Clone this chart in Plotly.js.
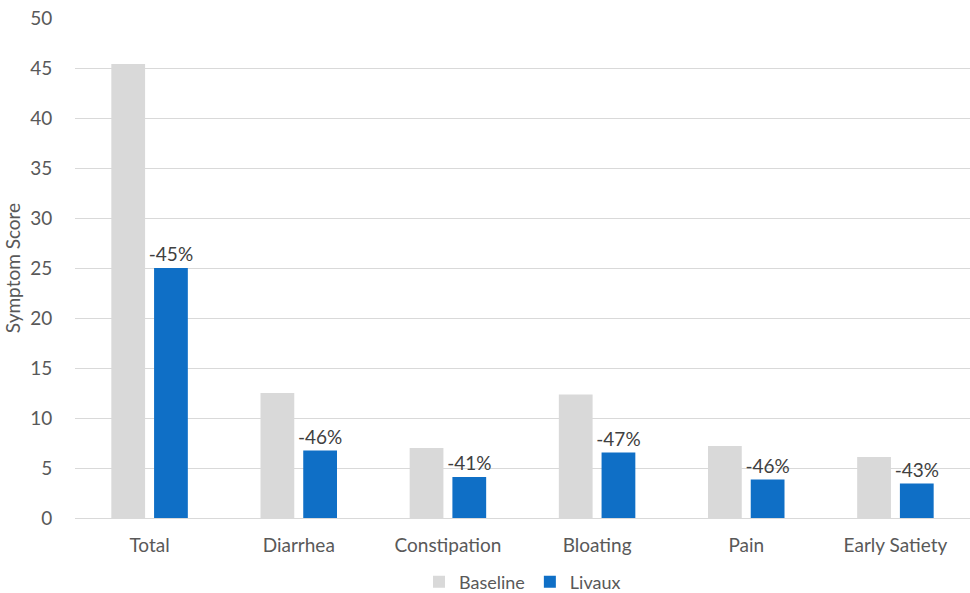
<!DOCTYPE html>
<html>
<head>
<meta charset="utf-8">
<script src="https://cdn.plot.ly/plotly-3.0.1.min.js"></script>
<style>html,body{margin:0;padding:0;background:#fff;}#chart{width:970px;height:593px;}</style>
</head>
<body>
<div id="chart"></div>
<script>
const categories = ["Total", "Diarrhea", "Constipation", "Bloating", "Pain", "Early Satiety"];
const baseline = [45.4, 12.5, 7.0, 12.35, 7.2, 6.1];
const livaux = [25.0, 6.75, 4.1, 6.55, 3.85, 3.45];
const changeLabels = ["-45%", "-46%", "-41%", "-47%", "-46%", "-43%"];
const yTicks = [0, 5, 10, 15, 20, 25, 30, 35, 40, 45, 50];

const fontFam = "Lato, 'Open Sans', sans-serif";
const textColor = "#595959";

const traces = [
  {
    type: "bar", name: "Baseline", x: categories, y: baseline,
    marker: {color: "#d9d9d9"}, hoverinfo: "skip"
  },
  {
    type: "bar", name: "Livaux", x: categories, y: livaux,
    marker: {color: "#0f6fc6"},
    text: changeLabels, textposition: "outside", cliponaxis: false, constraintext: "none",
    textfont: {family: fontFam, size: 19, color: "#404040"}, hoverinfo: "skip"
  }
];

const layout = {
  width: 970, height: 593,
  margin: {l: 75, r: 0, t: 18, b: 75, autoexpand: false},
  paper_bgcolor: "#fff", plot_bgcolor: "#fff",
  barmode: "group", bargap: 0.427, bargroupgap: 0.21,
  font: {family: fontFam, size: 19, color: textColor},
  xaxis: {
    showgrid: false, showline: true, linecolor: "#d9d9d9", linewidth: 1,
    ticks: "outside", ticklen: 10, tickcolor: "rgba(0,0,0,0)",
    tickfont: {family: fontFam, size: 19, color: textColor}
  },
  yaxis: {
    range: [0, 50], tickvals: yTicks, showgrid: true, gridcolor: "#d9d9d9", gridwidth: 1,
    zeroline: false, showline: false,
    ticks: "outside", ticklen: 18, tickcolor: "rgba(0,0,0,0)",
    tickfont: {family: fontFam, size: 19, color: textColor},
    title: {text: "Symptom Score", font: {family: fontFam, size: 19, color: textColor}, standoff: 4}
  },
  showlegend: true,
  legend: {
    orientation: "h", x: 0.5, xanchor: "center", y: -0.128, yanchor: "middle",
    font: {family: fontFam, size: 18, color: textColor}, itemwidth: 30,
    tracegroupgap: 0
  }
};

Plotly.newPlot("chart", traces, layout, {displayModeBar: false, staticPlot: true});
</script>
</body>
</html>
